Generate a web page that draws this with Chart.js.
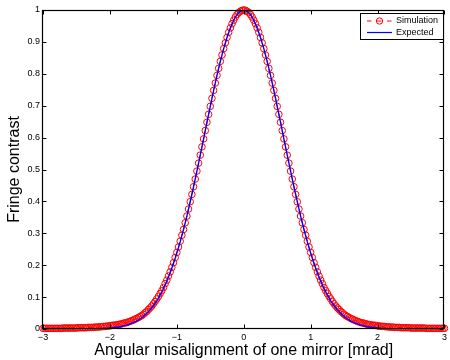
<!DOCTYPE html>
<html>
<head>
<meta charset="utf-8">
<script src="https://cdn.jsdelivr.net/npm/chart.js@4/dist/chart.umd.min.js"></script>
<style>
    body { margin: 0; background: #fff; }
    canvas { display: block; }
</style>
</head>
<body>
<canvas id="fringeChart" width="450" height="360"></canvas>
<script>
// Datos
const simInicio = -3;
const simPaso = 0.025;
const simulacion = [
    0.002, 0.002, 0.002, 0.002, 0.002, 0.002, 0.002, 0.002, 0.002, 0.002, 0.002, 0.002,
    0.003, 0.003, 0.003, 0.003, 0.003, 0.003, 0.003, 0.003,
    0.003, 0.004, 0.004, 0.004, 0.004, 0.004, 0.004, 0.005, 0.005, 0.005, 0.005, 0.006,
    0.006, 0.006, 0.007, 0.007, 0.008, 0.008, 0.009, 0.009, 0.010, 0.011, 0.012, 0.012,
    0.013, 0.014, 0.015, 0.016, 0.018, 0.019, 0.020, 0.022, 0.024, 0.026, 0.028, 0.031,
    0.033, 0.036, 0.039, 0.042, 0.046, 0.051, 0.055, 0.061, 0.066, 0.072, 0.079, 0.086,
    0.094, 0.102, 0.111, 0.120, 0.130, 0.142, 0.153, 0.166, 0.179, 0.193, 0.208, 0.224,
    0.240, 0.257, 0.275, 0.294,
    0.312, 0.333, 0.354, 0.376, 0.399, 0.422, 0.446, 0.470, 0.495, 0.520, 0.545, 0.571,
    0.596, 0.622, 0.648, 0.673, 0.698, 0.723, 0.748, 0.771, 0.795, 0.817, 0.839, 0.859,
    0.879, 0.897, 0.914, 0.930, 0.944, 0.957, 0.968, 0.978, 0.986, 0.992, 0.996, 0.999,
    1.000,
    0.999, 0.996, 0.992, 0.986, 0.978, 0.968, 0.957, 0.944, 0.930, 0.914, 0.897, 0.879,
    0.859, 0.839, 0.817, 0.795, 0.771, 0.748, 0.723, 0.698, 0.673, 0.648, 0.622, 0.596,
    0.571, 0.545, 0.520, 0.495, 0.470, 0.446, 0.422, 0.399, 0.376, 0.354, 0.333, 0.312,
    0.294, 0.275, 0.257, 0.240, 0.224, 0.208, 0.193, 0.179, 0.166, 0.153, 0.142, 0.130,
    0.120, 0.111, 0.102, 0.094, 0.086, 0.079, 0.072, 0.066, 0.061, 0.055, 0.051, 0.046,
    0.042, 0.039, 0.036, 0.033, 0.031, 0.028, 0.026, 0.024, 0.022, 0.020, 0.019, 0.018,
    0.016, 0.015, 0.014, 0.013, 0.012, 0.012, 0.011, 0.010, 0.009, 0.009, 0.008, 0.008,
    0.007, 0.007, 0.006, 0.006,
    0.006, 0.005, 0.005, 0.005, 0.005, 0.004, 0.004, 0.004, 0.004, 0.004, 0.004, 0.003,
    0.003, 0.003, 0.003, 0.003, 0.003, 0.003, 0.003, 0.003,
    0.002, 0.002, 0.002, 0.002, 0.002, 0.002, 0.002, 0.002, 0.002, 0.002, 0.002, 0.002
];

const espInicio = -3;
const espPaso = 0.05;
const esperado = [
    0.000, 0.000, 0.000, 0.000, 0.000, 0.000, 0.000, 0.000, 0.000, 0.000, 0.000, 0.000,
    0.000, 0.000, 0.000, 0.001, 0.001, 0.001, 0.002, 0.002, 0.003, 0.004, 0.006, 0.007,
    0.010, 0.012, 0.016, 0.020, 0.025, 0.032, 0.039, 0.049, 0.060, 0.073, 0.088, 0.106,
    0.126, 0.150, 0.176, 0.205, 0.238, 0.273, 0.312, 0.354, 0.399, 0.446, 0.495, 0.545,
    0.596, 0.648, 0.698, 0.748, 0.795, 0.839, 0.879, 0.914, 0.944, 0.968, 0.986, 0.996,
    1.000,
    0.996, 0.986, 0.968, 0.944, 0.914, 0.879, 0.839, 0.795, 0.748, 0.698, 0.648, 0.596,
    0.545, 0.495, 0.446, 0.399, 0.354, 0.312, 0.273, 0.238, 0.205, 0.176, 0.150, 0.126,
    0.106, 0.088, 0.073, 0.060, 0.049, 0.039, 0.032, 0.025, 0.020, 0.016, 0.012, 0.010,
    0.007, 0.006, 0.004, 0.003, 0.002, 0.002, 0.001, 0.001, 0.001, 0.000, 0.000, 0.000,
    0.000, 0.000, 0.000, 0.000, 0.000, 0.000, 0.000, 0.000, 0.000, 0.000, 0.000, 0.000
];

const ticksX = [-3, -2, -1, 0, 1, 2, 3];
const ticksY = [0, 0.1, 0.2, 0.3, 0.4, 0.5, 0.6, 0.7, 0.8, 0.9, 1];

const fuente = '"Liberation Sans", Arial, Helvetica, sans-serif';

// Convertir a puntos {x, y}
function aPuntos(valores, inicio, paso) {
    return valores.map((v, i) => ({ x: +(inicio + i * paso).toFixed(3), y: v }));
}

function etiqueta(v) {
    const r = Math.round(v * 10) / 10;
    return r < 0 ? '\u2212' + Math.abs(r) : String(r);
}

// Marco, marcas hacia dentro y leyenda estilo MATLAB
const marcoPlugin = {
    id: 'marco',
    afterDraw(chart) {
        const { ctx, chartArea: a, scales } = chart;
        const l = Math.round(a.left) - 0.5, r = Math.round(a.right) - 0.5;
        const t = Math.round(a.top) + 0.5, b = Math.round(a.bottom) - 0.5;
        const largo = 4;
        ctx.save();
        ctx.strokeStyle = '#000';
        ctx.lineWidth = 1;
        ctx.beginPath();
        ticksX.forEach(v => {
            const px = Math.round(scales.x.getPixelForValue(v)) + 0.5;
            ctx.moveTo(px, b); ctx.lineTo(px, b - largo);
            ctx.moveTo(px, t); ctx.lineTo(px, t + largo);
        });
        ticksY.forEach(v => {
            const py = Math.round(scales.y.getPixelForValue(v)) + 0.5;
            ctx.moveTo(l, py); ctx.lineTo(l + largo, py);
            ctx.moveTo(r, py); ctx.lineTo(r - largo, py);
        });
        ctx.stroke();
        ctx.lineWidth = 1.2;
        ctx.strokeRect(l, t, r - l, b - t);

        // Leyenda
        const lx = 360.5, ly = 13.5, lw = 83, lh = 26;
        ctx.fillStyle = '#fff';
        ctx.fillRect(lx, ly, lw, lh);
        ctx.lineWidth = 1;
        ctx.strokeRect(lx, ly, lw, lh);

        ctx.strokeStyle = '#ff0000';
        ctx.setLineDash([4.5, 5.5]);
        ctx.beginPath();
        ctx.moveTo(367, 21); ctx.lineTo(392, 21);
        ctx.stroke();
        ctx.setLineDash([]);
        ctx.beginPath();
        ctx.arc(379.5, 21, 3.2, 0, Math.PI * 2);
        ctx.stroke();

        ctx.strokeStyle = '#0000ff';
        ctx.lineWidth = 1.2;
        ctx.beginPath();
        ctx.moveTo(367, 32.5); ctx.lineTo(392, 32.5);
        ctx.stroke();

        ctx.fillStyle = '#000';
        ctx.font = '9px ' + fuente;
        ctx.textBaseline = 'middle';
        ctx.textAlign = 'left';
        ctx.fillText('Simulation', 396, 21);
        ctx.fillText('Expected', 396, 32.5);
        ctx.restore();
    }
};

const ctx = document.getElementById('fringeChart').getContext('2d');
new Chart(ctx, {
    type: 'scatter',
    data: {
        datasets: [
            {
                label: 'Expected',
                data: aPuntos(esperado, espInicio, espPaso),
                showLine: true,
                borderColor: '#0000ff',
                borderWidth: 1.4,
                pointRadius: 0,
                order: 0
            },
            {
                label: 'Simulation',
                data: aPuntos(simulacion, simInicio, simPaso),
                showLine: true,
                borderColor: '#ff0000',
                borderWidth: 1,
                borderDash: [5, 4],
                pointRadius: 3.3,
                pointStyle: 'circle',
                pointBorderColor: '#ff0000',
                pointBackgroundColor: 'rgba(0,0,0,0)',
                pointBorderWidth: 1,
                clip: false,
                order: 1
            }
        ]
    },
    options: {
        responsive: false,
        animation: false,
        layout: { padding: { top: 10, right: 2, bottom: 0, left: 0 } },
        plugins: {
            legend: { display: false },
            tooltip: { enabled: false }
        },
        scales: {
            x: {
                type: 'linear',
                min: -3,
                max: 3,
                afterBuildTicks: s => { s.ticks = ticksX.map(v => ({ value: v })); },
                afterFit: s => { s.height = 31; },
                grid: { display: false, drawTicks: false },
                border: { display: false },
                ticks: {
                    color: '#000',
                    padding: 3,
                    font: { size: 9, family: fuente },
                    maxRotation: 0,
                    callback: v => etiqueta(v)
                },
                title: {
                    display: true,
                    text: 'Angular misalignment of one mirror [mrad]',
                    color: '#000',
                    font: { size: 16, family: fuente },
                    padding: { top: 0, bottom: 0 }
                }
            },
            y: {
                type: 'linear',
                min: 0,
                max: 1,
                afterBuildTicks: s => { s.ticks = ticksY.map(v => ({ value: v })); },
                afterFit: s => { s.width = 43; },
                grid: { display: false, drawTicks: false },
                border: { display: false },
                ticks: {
                    color: '#000',
                    padding: 3,
                    font: { size: 9, family: fuente },
                    callback: v => etiqueta(v)
                },
                title: {
                    display: true,
                    text: 'Fringe contrast',
                    color: '#000',
                    font: { size: 16, family: fuente },
                    padding: { top: 5, bottom: 0 }
                }
            }
        }
    },
    plugins: [marcoPlugin]
});
</script>
</body>
</html>
